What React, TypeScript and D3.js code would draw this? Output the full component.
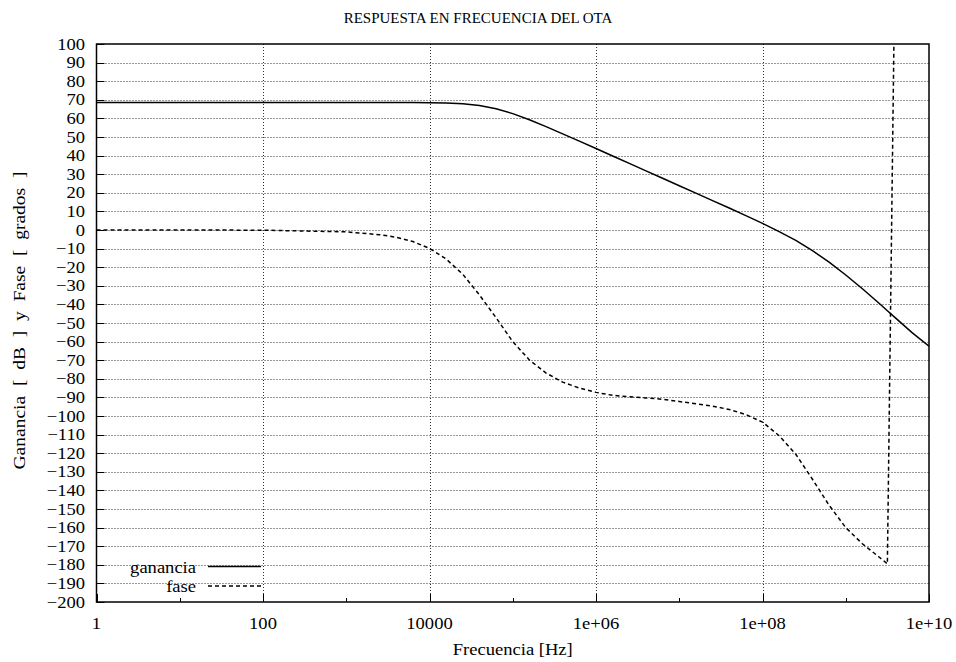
import React from "react";
import * as d3 from "d3";

// Frequency sweep of the OTA (Hz) with its gain (dB) and phase (degrees)
const freqHz = [
  1, 10, 100, 1e3, 2.512e3, 3.981e3, 6.31e3,
  1e4, 1.585e4, 2.512e4, 3.981e4, 6.31e4,
  1e5, 1.585e5, 2.512e5, 3.981e5, 6.31e5,
  1e6, 1.585e6, 2.512e6, 3.981e6, 6.31e6,
  1e7, 1.585e7, 2.512e7, 3.981e7, 6.31e7,
  1e8, 1.585e8, 2.512e8, 3.981e8, 6.31e8,
  1e9, 1.585e9, 2.512e9, 3.162e9, 3.981e9, 6.31e9,
  1e10,
];
const gananciaDb = [
  68.6, 68.6, 68.6, 68.6, 68.58, 68.55, 68.5,
  68.47, 68.28, 67.84, 66.9, 65.17,
  62.56, 59.26, 55.58, 51.71, 47.76,
  43.8, 39.8, 35.8, 31.8, 27.8,
  23.8, 19.8, 15.8, 11.8, 7.7,
  3.6, -0.9, -5.6, -11.1, -17.3,
  -24.2, -31.6, -39.4, -43.4, -47.4, -55.3,
  -62.5,
];
const faseGrados = [
  0, 0, -0.1, -1.0, -2.5, -3.9, -6.2,
  -9.9, -15.6, -23.8, -34.9, -47.2,
  -60.0, -69.9, -76.9, -81.8, -85.0,
  -87.3, -88.9, -89.7, -90.3, -91.0,
  -92.2, -93.4, -94.7, -96.5, -99.2,
  -103.3, -110.6, -120.6, -134.0, -148.0,
  -160.0, -168.7, -175.8, -179.5, 176.4, 170.0,
  161.0,
];

const xTickValues = [1, 1e2, 1e4, 1e6, 1e8, 1e10];
const xTickLabels = ["1", "100", "10000", "1e+06", "1e+08", "1e+10"];
const xMinorTicks = [10, 1e3, 1e5, 1e7, 1e9];
const yTickValues = d3.range(-200, 101, 10);

const titulo = "RESPUESTA EN FRECUENCIA DEL OTA";
const ejeX = "Frecuencia [Hz]";
const ejeY = "Ganancia  [  dB  ]  y  Fase  [  grados  ]";
const leyenda = ["ganancia", "fase"];

const W = 956;
const H = 662;
const left = 96.5;
const right = 929;
const top = 44;
const bottom = 602;
const SX = 1.16; // horizontal stretch of the lettering
const FONT = "'Liberation Serif', 'Times New Roman', serif";

export default function App() {
  const x = d3.scaleLog().domain([1, 1e10]).range([left, right]);
  const y = d3.scaleLinear().domain([-200, 100]).range([bottom, top]);

  const pts = freqHz.map((f, i) => ({ f, g: gananciaDb[i], p: faseGrados[i] }));
  const gainLine = d3
    .line<{ f: number; g: number; p: number }>()
    .x((d) => x(d.f))
    .y((d) => y(d.g))(pts) as string;
  const phaseLine = d3
    .line<{ f: number; g: number; p: number }>()
    .x((d) => x(d.f))
    .y((d) => y(d.p))(pts) as string;

  const crisp = (v: number) => Math.round(v) + 0.5;

  return (
    <svg
      width={W}
      height={H}
      style={{ position: "absolute", left: 0, top: 0, background: "#fff" }}
      fontFamily={FONT}
      fontSize={16}
    >
      <defs>
        <clipPath id="plotArea">
          <rect x={left} y={top} width={right - left} height={bottom - top} />
        </clipPath>
      </defs>
      <rect x={0} y={0} width={W} height={H} fill="#fff" />

      {/* grid */}
      <g stroke="#333" strokeWidth={1} strokeDasharray="1,2" fill="none">
        {yTickValues
          .filter((v) => v > -200 && v < 100)
          .map((v) => (
            <line key={"gy" + v} x1={left} x2={right} y1={crisp(y(v))} y2={crisp(y(v))} />
          ))}
        {xTickValues
          .filter((v) => v > 1 && v < 1e10)
          .map((v) => (
            <line key={"gx" + v} x1={crisp(x(v))} x2={crisp(x(v))} y1={top} y2={bottom} />
          ))}
      </g>

      {/* ticks */}
      <g stroke="#000" strokeWidth={1}>
        {yTickValues.map((v) => (
          <line key={"ty" + v} x1={left} x2={left + 8} y1={crisp(y(v))} y2={crisp(y(v))} />
        ))}
        {xTickValues.map((v) => (
          <line key={"tx" + v} x1={crisp(x(v))} x2={crisp(x(v))} y1={bottom} y2={bottom - 8} />
        ))}
        {xMinorTicks.map((v) => (
          <line key={"tm" + v} x1={crisp(x(v))} x2={crisp(x(v))} y1={bottom} y2={bottom - 4} />
        ))}
      </g>

      {/* curves */}
      <g clipPath="url(#plotArea)" fill="none" stroke="#000" strokeWidth={1.5}>
        <path d={gainLine} />
        <path d={phaseLine} strokeDasharray="4,3" />
      </g>

      {/* border */}
      <rect
        x={left}
        y={top}
        width={right - left}
        height={bottom - top}
        fill="none"
        stroke="#000"
        strokeWidth={1.5}
      />

      {/* y tick labels */}
      {yTickValues.map((v) => (
        <text
          key={"ly" + v}
          transform={`translate(85,${y(v) + 5.5}) scale(${SX},1)`}
          textAnchor="end"
        >
          {v < 0 ? "\u2212" + Math.abs(v) : String(v)}
        </text>
      ))}

      {/* x tick labels */}
      {xTickValues.map((v, i) => (
        <text
          key={"lx" + v}
          transform={`translate(${x(v)},629) scale(${SX},1)`}
          textAnchor="middle"
        >
          {xTickLabels[i]}
        </text>
      ))}

      {/* titles */}
      <text transform="translate(478,23)" textAnchor="middle" fontSize={15}>
        {titulo}
      </text>
      <text transform={`translate(${(left + right) / 2},655) scale(${SX},1)`} textAnchor="middle">
        {ejeX}
      </text>
      <text
        transform="translate(25,320.5) rotate(-90) scale(1.22,1.08)"
        textAnchor="middle"
        xmlSpace="preserve"
        style={{ whiteSpace: "pre" }}
      >
        {ejeY}
      </text>

      {/* legend */}
      <g>
        <text transform={`translate(196,573) scale(${SX},1)`} textAnchor="end">
          {leyenda[0]}
        </text>
        <line x1={208} x2={261} y1={566.5} y2={566.5} stroke="#000" strokeWidth={1.5} />
        <text transform={`translate(196,592) scale(${SX},1)`} textAnchor="end">
          {leyenda[1]}
        </text>
        <line
          x1={208}
          x2={261}
          y1={586}
          y2={586}
          stroke="#000"
          strokeWidth={1.5}
          strokeDasharray="4,3"
        />
      </g>
    </svg>
  );
}
